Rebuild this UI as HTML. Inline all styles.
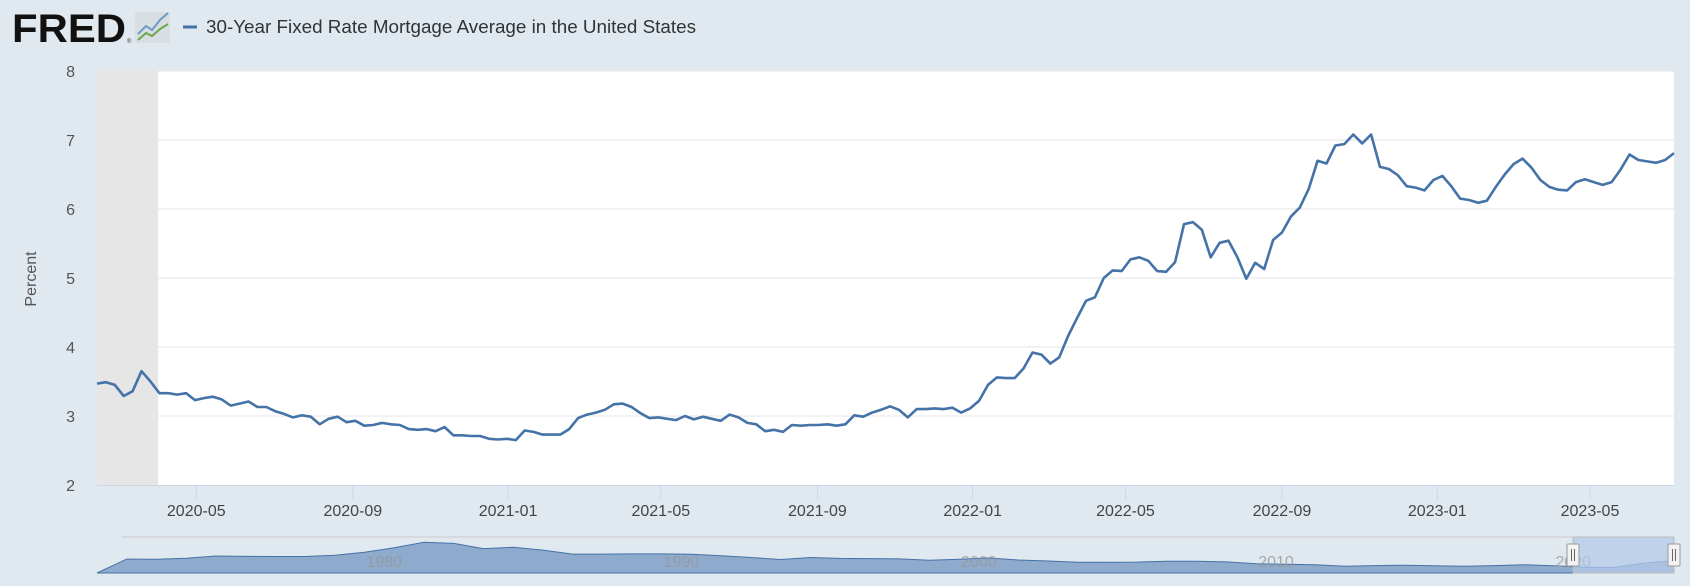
<!DOCTYPE html>
<html><head><meta charset="utf-8"><style>
body{margin:0;background:#e1e9f0;width:1690px;height:586px;overflow:hidden;font-family:"Liberation Sans",sans-serif}
svg{display:block}
</style></head><body>
<svg id="c" width="1690" height="586">
<rect width="1690" height="586" fill="#e1e9f0"/>
<g>
<text x="12" y="42" font-size="40" font-weight="bold" fill="#111" textLength="114" lengthAdjust="spacingAndGlyphs" font-family="Liberation Sans, sans-serif">FRED</text>
<text x="127" y="43" font-size="6" fill="#333">®</text>
<rect x="135" y="12" width="35" height="31" fill="#d9dee2" rx="2"/>
<polyline points="138,34 146,26 152,30 160,20 168,13" fill="none" stroke="#6f9bc8" stroke-width="2"/>
<polyline points="138,40 146,33 152,36 160,29 168,24" fill="none" stroke="#6aa84f" stroke-width="2"/>
</g>
<g>
<line x1="183" y1="27" x2="197" y2="27" stroke="#4572a7" stroke-width="3"/>
<text x="206" y="33" font-size="18" fill="#333" textLength="490" lengthAdjust="spacingAndGlyphs">30-Year Fixed Rate Mortgage Average in the United States</text>
</g>
<rect x="97" y="71" width="1577" height="414" fill="#fff"/>
<g id="grid"></g><g id="rec"></g><g id="yt"></g><g id="xt"></g>
<text x="0" y="0" transform="translate(36,279) rotate(-90)" text-anchor="middle" font-size="16" fill="#555">Percent</text>
<path id="line" fill="none" stroke="#4572a7" stroke-width="2.6" stroke-linejoin="round"/>
<line x1="97" x2="1674" y1="485.5" y2="485.5" stroke="#ccd6eb"/>
<g id="nav"></g>
</svg>
<script>
const yTicks=[2,3,4,5,6,7,8];
const xTickLabels=["2020-05","2020-09","2021-01","2021-05","2021-09","2022-01","2022-05","2022-09","2023-01","2023-05"];
const startDate="2020-02-13";
const values=[3.47,3.49,3.45,3.29,3.36,3.65,3.50,3.33,3.33,3.31,3.33,3.23,3.26,3.28,3.24,3.15,3.18,3.21,3.13,3.13,3.07,3.03,2.98,3.01,2.99,2.88,2.96,2.99,2.91,2.93,2.86,2.87,2.90,2.88,2.87,2.81,2.80,2.81,2.78,2.84,2.72,2.72,2.71,2.71,2.67,2.66,2.67,
2.65,2.79,2.77,2.73,2.73,2.73,2.81,2.97,3.02,3.05,3.09,3.17,3.18,3.13,3.04,2.97,2.98,2.96,2.94,3.00,2.95,2.99,2.96,2.93,3.02,2.98,2.90,2.88,2.78,2.80,2.77,2.87,2.86,2.87,2.87,2.88,2.86,2.88,3.01,2.99,3.05,3.09,3.14,3.09,2.98,3.10,3.10,3.11,3.10,3.12,3.05,3.11,
3.22,3.45,3.56,3.55,3.55,3.69,3.92,3.89,3.76,3.85,4.16,4.42,4.67,4.72,5.00,5.11,5.10,5.27,5.30,5.25,5.10,5.09,5.23,5.78,5.81,5.70,5.30,5.51,5.54,5.30,4.99,5.22,5.13,5.55,5.66,5.89,6.02,6.29,6.70,6.66,6.92,6.94,7.08,6.95,7.08,6.61,6.58,6.49,6.33,6.31,6.27,6.42,
6.48,6.33,6.15,6.13,6.09,6.12,6.32,6.50,6.65,6.73,6.60,6.42,6.32,6.28,6.27,6.39,6.43,6.39,6.35,6.39,6.57,6.79,6.71,6.69,6.67,6.71,6.81];
const recession=["2020-02-13","2020-04-01"];
const navYears=[1971,1972,1973,1974,1975,1976,1977,1978,1979,1980,1981,1982,1983,1984,1985,1986,1987,1988,1989,1990,1991,1992,1993,1994,1995,1996,1997,1998,1999,2000,2001,2002,2003,2004,2005,2006,2007,2008,2009,2010,2011,2012,2013,2014,2015,2016,2017,2018,2019,2020,2021,2022,2023];
const navValues=[7.5,7.4,8.0,9.2,9.0,8.9,8.9,9.6,11.2,13.7,16.6,16.0,13.2,13.9,12.4,10.2,10.2,10.3,10.3,10.1,9.3,8.4,7.3,8.4,7.9,7.8,7.6,6.9,7.4,8.1,7.0,6.5,5.8,5.8,5.9,6.4,6.3,6.0,5.0,4.7,4.5,3.7,4.0,4.2,3.9,3.6,4.0,4.5,3.9,3.1,3.0,5.3,6.6];
const navLabels=[1980,1990,2000,2010,2020];

const NS="http://www.w3.org/2000/svg";
const X0=97,X1=1674,Y0=485,Y1=71;
const t0=Date.parse(startDate),t1=Date.parse("2023-07-06");
const xs=d=>X0+(Date.parse(d)-t0)/(t1-t0)*(X1-X0);
const xt=t=>X0+(t-t0)/(t1-t0)*(X1-X0);
const ys=v=>Y0-(v-2)/6*(Y0-Y1);
function mk(tag,at,parent){const e=document.createElementNS(NS,tag);for(const k in at)e.setAttribute(k,at[k]);document.getElementById(parent).appendChild(e);return e;}
yTicks.forEach(v=>{
 if(v>2){const g=mk('line',{x1:X0,x2:X1,y1:ys(v),y2:ys(v),stroke:'#e6e6e6','stroke-width':1},'grid');
 
 }
 const t=mk('text',{x:75,y:ys(v)+6,'text-anchor':'end','font-size':16,fill:'#555'},'yt');t.textContent=v;
 
 
});
const r=mk('rect',{x:xs(recession[0]),y:Y1,width:xs(recession[1])-xs(recession[0]),height:Y0-Y1,fill:'#e6e6e6'},'rec');


xTickLabels.forEach(l=>{const x=xs(l+"-01");
 const tk=mk('line',{x1:x,x2:x,y1:Y0,y2:Y0+14,stroke:'#ccd6eb'},'xt');
 
 
 const t=mk('text',{x:x,y:516,'text-anchor':'middle','font-size':16,fill:'#444'},'xt');t.textContent=l;
 
 });
let d="";values.forEach((v,i)=>{const x=xt(t0+i*7*864e5);d+=(i?"L":"M")+x.toFixed(1)+","+ys(v).toFixed(1);});
document.getElementById('line').setAttribute('d',d);
// navigator
const NB=573,NT=537,yr0=1970.5,yr1=2023.55;
const nx=y=>X0+(y-yr0)/(yr1-yr0)*(X1-X0);
const ny=v=>NB-v*1.85;
const bg=mk('rect',{x:X0,y:NT,width:X1-X0,height:NB-NT,fill:'#e1e9f0'},'nav');


let p="M"+X0+","+NB;navYears.forEach((y,i)=>{p+="L"+nx(y+0.5).toFixed(1)+","+ny(navValues[i]).toFixed(1);});p+="L"+X1+","+ny(navValues[navValues.length-1])+"L"+X1+","+NB+"Z";
const a=mk('path',{d:p,fill:'#7f9fc6','fill-opacity':0.85,stroke:'#4572a7','stroke-width':1},'nav');


navLabels.forEach(y=>{const t=mk('text',{x:nx(y)-13,y:567,'font-size':16,fill:'#999','fill-opacity':0.8},'nav');t.textContent=y;
 
 });
const sx=1573;
const sel=mk('rect',{x:sx,y:NT,width:X1-sx,height:NB-NT,fill:'#b4c8e8','fill-opacity':0.75,stroke:'#bbb'},'nav');


const ol=mk('line',{x1:122,x2:sx,y1:NT,y2:NT,stroke:'#cccccc','stroke-width':1},'nav');


[sx,X1].forEach(x=>{const h=mk('rect',{x:x-6,y:544,width:12,height:22,fill:'#f2f2f2',stroke:'#999',rx:1},'nav');
 
 
 mk('line',{x1:x-1.5,x2:x-1.5,y1:549,y2:561,stroke:'#666'},'nav');mk('line',{x1:x+1.5,x2:x+1.5,y1:549,y2:561,stroke:'#666'},'nav');});
</script>
</body></html>
